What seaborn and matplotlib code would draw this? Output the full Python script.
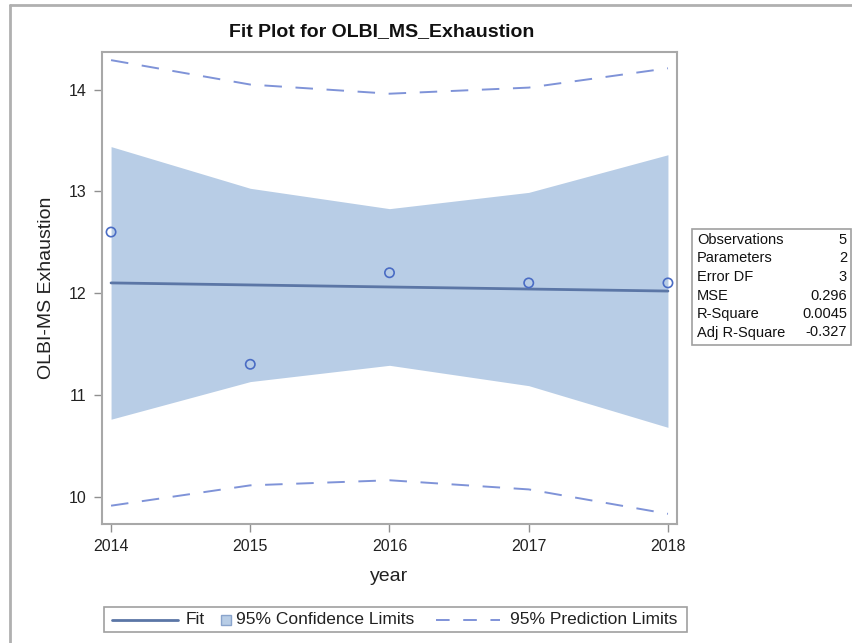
import numpy as np
import pandas as pd
import seaborn as sns
import matplotlib.pyplot as plt
from matplotlib.lines import Line2D
from matplotlib.patches import Rectangle

# values
years = [2014, 2015, 2016, 2017, 2018]
exhaustion = [12.6, 11.3, 12.2, 12.1, 12.1]
fit = [12.10, 12.08, 12.06, 12.04, 12.02]
ci_lower = [10.76, 11.13, 11.29, 11.09, 10.68]
ci_upper = [13.44, 13.03, 12.83, 12.99, 13.36]
pi_lower = [9.91, 10.11, 10.16, 10.07, 9.83]
pi_upper = [14.29, 14.05, 13.96, 14.02, 14.21]

stat_names = ["Observations", "Parameters", "Error DF", "MSE", "R-Square", "Adj R-Square"]
stat_values = ["5", "2", "3", "0.296", "0.0045", "-0.327"]
legend_labels = ["Fit", "95% Confidence Limits", "95% Prediction Limits"]

sns.set_style("white")
plt.rcParams['font.family'] = ['Liberation Sans', 'DejaVu Sans']

W, H = 853, 643
fig = plt.figure(figsize=(W / 100, H / 100), dpi=100)

def fx(px):
    return px / W

def fy(py):
    return 1 - py / H

ax = fig.add_axes([fx(102), fy(524), fx(677) - fx(102), fy(52) - fy(524)])

df = pd.DataFrame({"year": years, "y": exhaustion, "fit": fit,
                   "ci_lo": ci_lower, "ci_hi": ci_upper,
                   "pi_lo": pi_lower, "pi_hi": pi_upper})

band_col = "#b8cde6"
fit_col = "#5b76a6"
pred_col = "#7f93d8"
pt_col = "#4a6cc4"
dash = (0, (9, 7))

ax.fill_between(df["year"], df["ci_lo"], df["ci_hi"], color=band_col, lw=0, zorder=1)
sns.lineplot(data=df, x="year", y="fit", color=fit_col, lw=2, ax=ax, zorder=3)
for col in ["pi_lo", "pi_hi"]:
    sns.lineplot(data=df, x="year", y=col, color=pred_col, lw=1.4, ax=ax,
                 dashes=False, linestyle=dash, zorder=2)
sns.scatterplot(data=df, x="year", y="y", marker="o", s=45, facecolor="none",
                edgecolor=pt_col, linewidth=1.2, ax=ax, zorder=4)

ax.set_xlim(2013.935, 2018.065)
ax.set_ylim(9.73, 14.37)
ax.set_xticks(years)
ax.set_yticks([10, 11, 12, 13, 14])
ax.tick_params(axis="both", direction="out", length=6, width=1, color="#909090",
               labelsize=11.5, labelcolor="#222222", pad=5, left=True, bottom=True)
for s in ax.spines.values():
    s.set_color("#a8a8a8")
    s.set_linewidth(1.5)
ax.set_xlabel("year", fontsize=14, labelpad=10, color="#222222")
ax.set_ylabel("OLBI-MS Exhaustion", fontsize=14, labelpad=10, color="#222222")
fig.text(fx(382), fy(32), "Fit Plot for OLBI_MS_Exhaustion", fontsize=14,
         fontweight="bold", ha="center", va="center", color="#111111")

# outer frame of the graph area
fig.add_artist(Line2D([fx(10), fx(10)], [fy(5), 0], color="#b0b0b0", lw=2))
fig.add_artist(Line2D([fx(10), 1], [fy(5), fy(5)], color="#b0b0b0", lw=2))

# statistics inset
fig.add_artist(Rectangle((fx(692), fy(345)), fx(851) - fx(692), fy(229) - fy(345),
                         transform=fig.transFigure, fill=False, ec="#a0a0a0", lw=1.2))
for i, (n, v) in enumerate(zip(stat_names, stat_values)):
    yy = fy(240 + i * 18.5)
    fig.text(fx(697), yy, n, fontsize=10.5, va="center", ha="left", color="#111111")
    fig.text(fx(847), yy, v, fontsize=10.5, va="center", ha="right", color="#111111")

# legend, laid out like the SAS one
ly = fy(620)
fig.add_artist(Rectangle((fx(104), fy(632)), fx(687) - fx(104), fy(607) - fy(632),
                         transform=fig.transFigure, fill=False, ec="#a0a0a0", lw=1.2))
fig.add_artist(Line2D([fx(112), fx(178)], [ly, ly], color=fit_col, lw=2))
fig.text(fx(186), ly, legend_labels[0], fontsize=12.5, va="center", ha="left", color="#222222")
fig.add_artist(Rectangle((fx(221), fy(625)), fx(231) - fx(221), fy(615) - fy(625),
                         transform=fig.transFigure, fc=band_col, ec="#8aa4cc", lw=1))
fig.text(fx(236), ly, legend_labels[1], fontsize=12.5, va="center", ha="left", color="#222222")
fig.add_artist(Line2D([fx(436), fx(500)], [ly, ly], color=pred_col, lw=1.4,
                      linestyle=(0, (7, 7))))
fig.text(fx(510), ly, legend_labels[2], fontsize=12.5, va="center", ha="left", color="#222222")

fig.savefig("out.png", dpi=100)
